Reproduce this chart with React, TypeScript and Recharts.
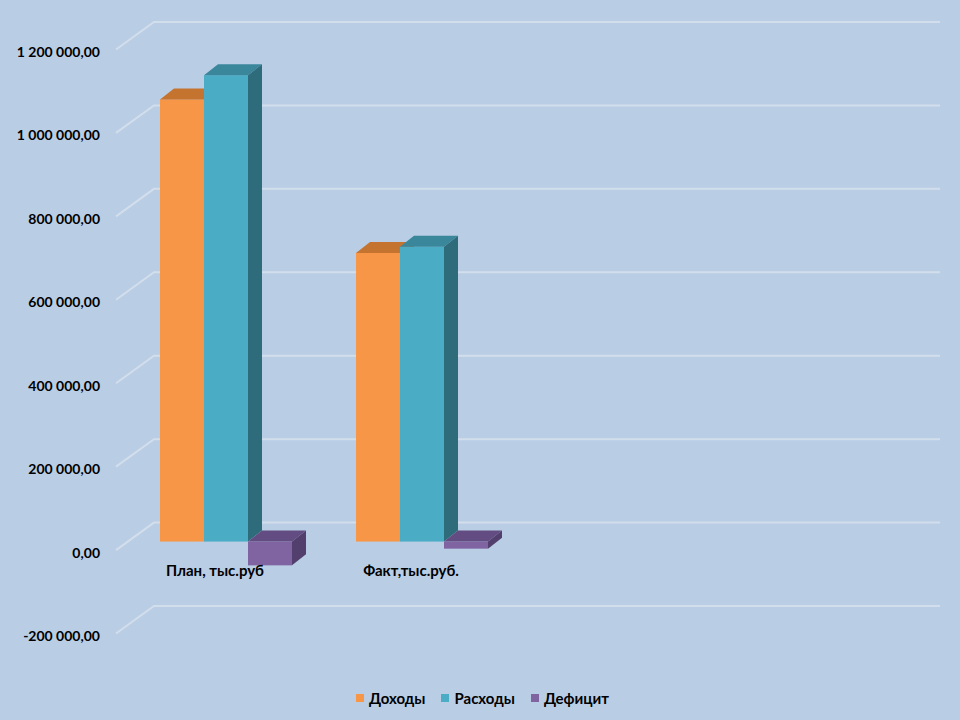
import React from 'react';
import { BarChart, Bar, XAxis, YAxis, CartesianGrid, Legend } from 'recharts';

const categories = ['План, тыс.руб', 'Факт,тыс.руб.'];
const incomes = [1060000, 692000];
const expenses = [1118000, 707000];
const deficits = [-57000, -17000];
const seriesNames = ['Доходы', 'Расходы', 'Дефицит'];
const yTicks = [-200000, 0, 200000, 400000, 600000, 800000, 1000000, 1200000];

const data = categories.map((name, i) => ({
  name,
  income: incomes[i],
  expense: expenses[i],
  deficit: deficits[i],
}));

const FONT = "Lato, 'Open Sans', 'DejaVu Sans', sans-serif";
const BG = '#B9CDE5';
const GRID = '#D3DEEC';

const palettes = {
  income: { front: '#F79646', top: '#C5742F', side: '#B4662A' },
  expense: { front: '#4BACC6', top: '#3A879B', side: '#2F6C7B' },
  deficit: { front: '#8064A2', top: '#634C82', side: '#533F6E' },
};

const DX = 14;
const DY = 11;

function make3D(pal: { front: string; top: string; side: string }) {
  return (props: any) => {
    const { x, y, width, height } = props;
    if (x == null || y == null) return <g />;
    const top = Math.min(y, y + height);
    const h = Math.abs(height);
    const w = width;
    return (
      <g>
        <rect x={x} y={top} width={w} height={h} fill={pal.front} />
        <polygon
          points={`${x},${top} ${x + DX},${top - DY} ${x + w + DX},${top - DY} ${x + w},${top}`}
          fill={pal.top}
        />
        <polygon
          points={`${x + w},${top} ${x + w + DX},${top - DY} ${x + w + DX},${top + h - DY} ${x + w},${top + h}`}
          fill={pal.side}
        />
      </g>
    );
  };
}

function formatRu(v: number) {
  const sign = v < 0 ? '-' : '';
  const s = Math.abs(Math.round(v)).toString();
  const grouped = s.replace(/\B(?=(\d{3})+(?!\d))/g, ' ');
  return `${sign}${grouped},00`;
}

const YTick = (props: any) => {
  const { y, payload } = props;
  return (
    <text
      x={100}
      y={y + 10.5}
      textAnchor="end"
      dominantBaseline="central"
      fontFamily={FONT}
      fontWeight={700}
      fontSize={14}
      fill="#000"
    >
      {formatRu(payload.value)}
    </text>
  );
};

const XTick = (props: any) => {
  const { x, y, payload } = props;
  return (
    <text
      x={x - 11}
      y={y - 55}
      textAnchor="middle"
      dominantBaseline="central"
      fontFamily={FONT}
      fontWeight={700}
      fontSize={15}
      fill="#000"
    >
      {payload.value}
    </text>
  );
};

const gridLine = (p: any) => {
  const y = p.y1;
  return (
    <polyline
      key={p.key}
      points={`116,${y + 8.5} 154,${y - 19} 940,${y - 19}`}
      fill="none"
      stroke={GRID}
      strokeWidth={2}
    />
  );
};

const legendColors = [palettes.income.front, palettes.expense.front, palettes.deficit.front];

const LegendContent = () => (
  <div
    style={{
      display: 'flex',
      justifyContent: 'center',
      alignItems: 'center',
      height: 20,
      paddingLeft: 5,
      fontFamily: FONT,
      fontWeight: 700,
      fontSize: 15,
      color: '#000',
    }}
  >
    {seriesNames.map((n, i) => (
      <span key={n} style={{ display: 'flex', alignItems: 'center', marginRight: i < 2 ? 16 : 0 }}>
        <span style={{ width: 8, height: 8, background: legendColors[i], marginRight: 5, display: 'inline-block' }} />
        {n}
      </span>
    ))}
  </div>
);

export default function App() {
  return (
    <div style={{ position: 'absolute', left: 0, top: 0, width: 960, height: 720, background: BG }}>
      <BarChart
        width={960}
        height={720}
        data={data}
        margin={{ top: 41, right: 48, left: 0, bottom: 12 }}
        barSize={44}
        barGap={0}
      >
        <CartesianGrid horizontal={gridLine} vertical={false} />
        <XAxis
          dataKey="name"
          axisLine={false}
          tickLine={false}
          tickSize={0}
          tickMargin={0}
          height={63}
          padding={{ left: 0, right: 392 }}
          tick={<XTick />}
          interval={0}
        />
        <YAxis
          width={128}
          domain={[-200000, 1200000]}
          ticks={yTicks}
          axisLine={false}
          tickLine={false}
          tick={<YTick />}
          interval={0}
        />
        <Legend
          verticalAlign="bottom"
          content={<LegendContent />}
          wrapperStyle={{ left: 0, width: 960 }}
        />
        <Bar dataKey="income" name={seriesNames[0]} shape={make3D(palettes.income)} isAnimationActive={false} />
        <Bar dataKey="expense" name={seriesNames[1]} shape={make3D(palettes.expense)} isAnimationActive={false} />
        <Bar dataKey="deficit" name={seriesNames[2]} shape={make3D(palettes.deficit)} isAnimationActive={false} />
      </BarChart>
    </div>
  );
}
